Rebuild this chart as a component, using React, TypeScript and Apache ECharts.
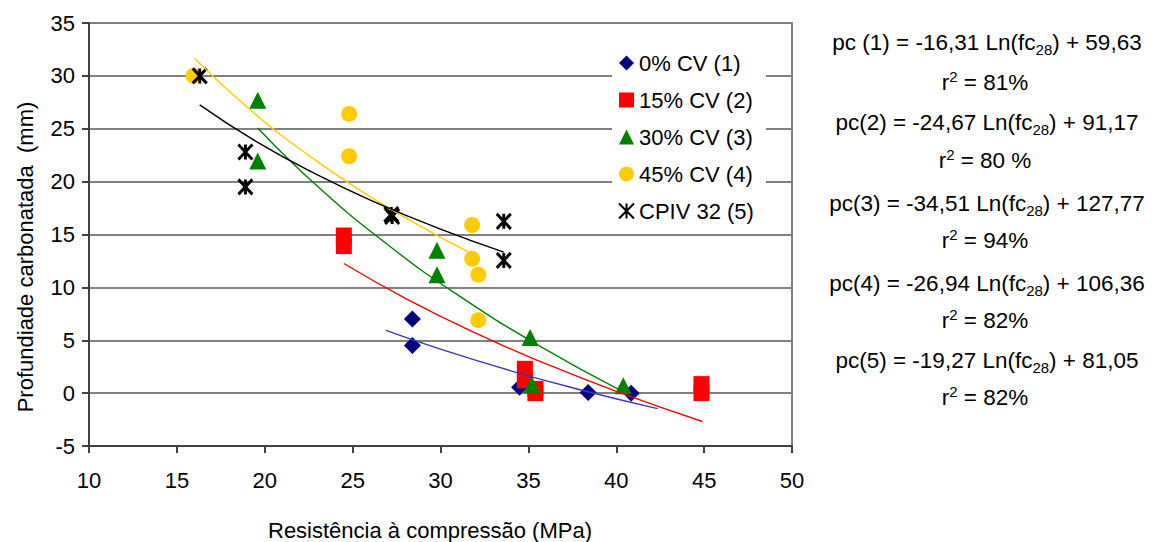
import React, { useEffect, useRef } from "react";
import * as echarts from "echarts";

// ---- data ----
const seriesNames = ["0% CV (1)", "15% CV (2)", "30% CV (3)", "45% CV (4)", "CPIV 32 (5)"];

const cv0Points = [[28.4, 7.0], [28.4, 4.5], [34.5, 0.55], [38.4, 0.05], [40.85, 0.0]];
const cv15Points = [[24.5, 14.9], [24.5, 13.9], [34.8, 2.3], [34.8, 1.2], [35.4, 0.4], [35.4, 0.0], [44.85, 0.85], [44.85, 0.0]];
const cv30Points = [[19.6, 27.7], [19.6, 21.95], [29.8, 13.5], [29.8, 11.2], [35.1, 5.25], [35.2, 0.8], [40.4, 0.7]];
const cv45Points = [[15.95, 30.0], [24.8, 26.4], [24.8, 22.4], [31.8, 15.9], [31.8, 12.7], [32.15, 11.2], [32.15, 6.9]];
const cpivPoints = [[16.3, 30.0], [18.9, 22.8], [18.9, 19.5], [27.2, 16.9], [27.25, 16.7], [33.6, 16.25], [33.6, 12.55]];

// logarithmic trend lines
const trend1 = [[26.9, 5.94], [30, 4.16], [34, 2.11], [38, 0.30], [42.35, -1.47]];
const trend2 = [[24.5, 12.26], [28, 8.97], [32, 5.67], [36, 2.77], [40, 0.17], [44.9, -2.68]];
const trend3 = [[19.6, 25.08], [23, 19.56], [27, 14.03], [31, 9.26], [35.5, 4.59], [40.4, 0.12]];
const trend4 = [[16.0, 31.67], [19, 27.04], [22.5, 22.48], [26, 18.59], [29, 15.65], [31.6, 13.33]];
const trend5 = [[16.3, 27.26], [19.5, 23.81], [23, 20.63], [26.5, 17.9], [30, 15.51], [33.6, 13.33]];

const eqLabels = ["pc (1)", "pc(2)", "pc(3)", "pc(4)", "pc(5)"];
const eqSlopes = ["-16,31", "-24,67", "-34,51", "-26,94", "-19,27"];
const eqIntercepts = ["59,63", "91,17", "127,77", "106,36", "81,05"];
const r2Labels = ["81%", "80 %", "94%", "82%", "82%"];

const xTitle = "Resistência à compressão (MPa)";
const yTitle = "Profundiade carbonatada  (mm)";

const FONT = "'Liberation Sans', Arial, sans-serif";

export default function App() {
  const ref = useRef<HTMLDivElement>(null);

  useEffect(() => {
    document.body.style.margin = "0";
    if (!ref.current) return;
    const chart = echarts.init(ref.current, undefined, { renderer: "svg" });

    const colors = ["#000080", "#FF0000", "#008000", "#FFCC00", "#000000"];
    const trendColors = ["#3838B8", "#FF0000", "#008000", "#FFCC00", "#000000"];
    const pts = [cv0Points, cv15Points, cv30Points, cv45Points, cpivPoints];
    const trends = [trend1, trend2, trend3, trend4, trend5];
    const symbols = [
      "diamond",
      "rect",
      "triangle",
      "circle",
      "path://M0,0L10,10M10,0L0,10M5,0L5,10",
    ];
    const sizes: any[] = [[17, 17], [16, 16], [17, 17], [16, 16], [14, 15]];

    const scatterSeries = pts.map((d, i) => ({
      type: "scatter",
      name: seriesNames[i],
      data: d,
      symbol: symbols[i],
      symbolSize: sizes[i],
      z: 2 + i * 0.01,
      itemStyle:
        i === 4
          ? { color: "#000", borderColor: "#000", borderWidth: 3, opacity: 1 }
          : { color: colors[i], opacity: 1 },
      emphasis: { disabled: true },
    }));

    const lineSeries = trends.map((d, i) => ({
      type: "line",
      name: "Log " + seriesNames[i],
      data: d,
      smooth: true,
      showSymbol: false,
      symbol: "none",
      silent: true,
      z: 4,
      lineStyle: { color: trendColors[i], width: 1.4 },
    }));

    const eqGraphics: any[] = [];
    const eqY = [42, 122, 203, 283, 360];
    const r2Y = [82, 160, 240, 320, 397];
    for (let i = 0; i < 5; i++) {
      eqGraphics.push({
        type: "text",
        x: 987,
        y: eqY[i],
        style: {
          text: `${eqLabels[i]} = ${eqSlopes[i]} Ln(fc{sub|28}) + ${eqIntercepts[i]}`,
          font: `22.5px ${FONT}`,
          fill: "#000",
          align: "center",
          verticalAlign: "middle",
          lineHeight: 30,
          rich: {
            sub: { fontSize: 15, fontFamily: FONT, verticalAlign: "bottom", lineHeight: 15, fill: "#000" },
          },
        },
      });
      eqGraphics.push({
        type: "text",
        x: 985,
        y: r2Y[i],
        style: {
          text: `r{sup|2} = ${r2Labels[i]}`,
          font: `22.5px ${FONT}`,
          fill: "#000",
          align: "center",
          verticalAlign: "middle",
          lineHeight: 26,
          rich: {
            sup: { fontSize: 15, fontFamily: FONT, verticalAlign: "top", lineHeight: 15, fill: "#000" },
          },
        },
      });
    }

    chart.setOption({
      animation: false,
      backgroundColor: "#fff",
      textStyle: { fontFamily: FONT },
      grid: {
        left: 89,
        right: 362,
        top: 23,
        bottom: 96,
        show: true,
        borderColor: "#808080",
        borderWidth: 2,
        backgroundColor: "transparent",
      },
      legend: {
        data: seriesNames,
        orient: "vertical",
        left: 612,
        top: 47,
        backgroundColor: "#fff",
        padding: [4, 12, 4, 6],
        itemGap: 13,
        itemWidth: 15,
        itemHeight: 15,
        selectedMode: false,
        textStyle: { fontSize: 22, color: "#000", fontFamily: FONT, lineHeight: 24 },
      },
      xAxis: {
        type: "value",
        min: 10,
        max: 50,
        interval: 5,
        axisLine: { show: true, onZero: false, lineStyle: { color: "#404040", width: 2 } },
        axisTick: { show: true, length: 7, lineStyle: { color: "#404040", width: 2 } },
        axisLabel: { fontSize: 22, color: "#000", margin: 23, fontFamily: FONT },
        splitLine: { show: false },
      },
      yAxis: {
        type: "value",
        min: -5,
        max: 35,
        interval: 5,
        axisLine: { show: true, onZero: false, lineStyle: { color: "#404040", width: 2 } },
        axisTick: { show: true, length: 7, lineStyle: { color: "#404040", width: 2 } },
        axisLabel: { fontSize: 22, color: "#000", margin: 14, fontFamily: FONT },
        splitLine: { show: true, lineStyle: { color: "#808080", width: 2 } },
      },
      graphic: [
        {
          type: "text",
          x: 430,
          y: 530,
          style: {
            text: xTitle,
            font: `22px ${FONT}`,
            fill: "#000",
            align: "center",
            verticalAlign: "middle",
          },
        },
        {
          type: "text",
          x: 25,
          y: 257,
          rotation: Math.PI / 2,
          style: {
            text: yTitle,
            font: `22px ${FONT}`,
            fill: "#000",
            align: "center",
            verticalAlign: "middle",
          },
        },
        ...eqGraphics,
      ],
      series: [...scatterSeries, ...lineSeries],
    });

    return () => chart.dispose();
  }, []);

  return <div ref={ref} style={{ width: 1154, height: 542 }} />;
}
